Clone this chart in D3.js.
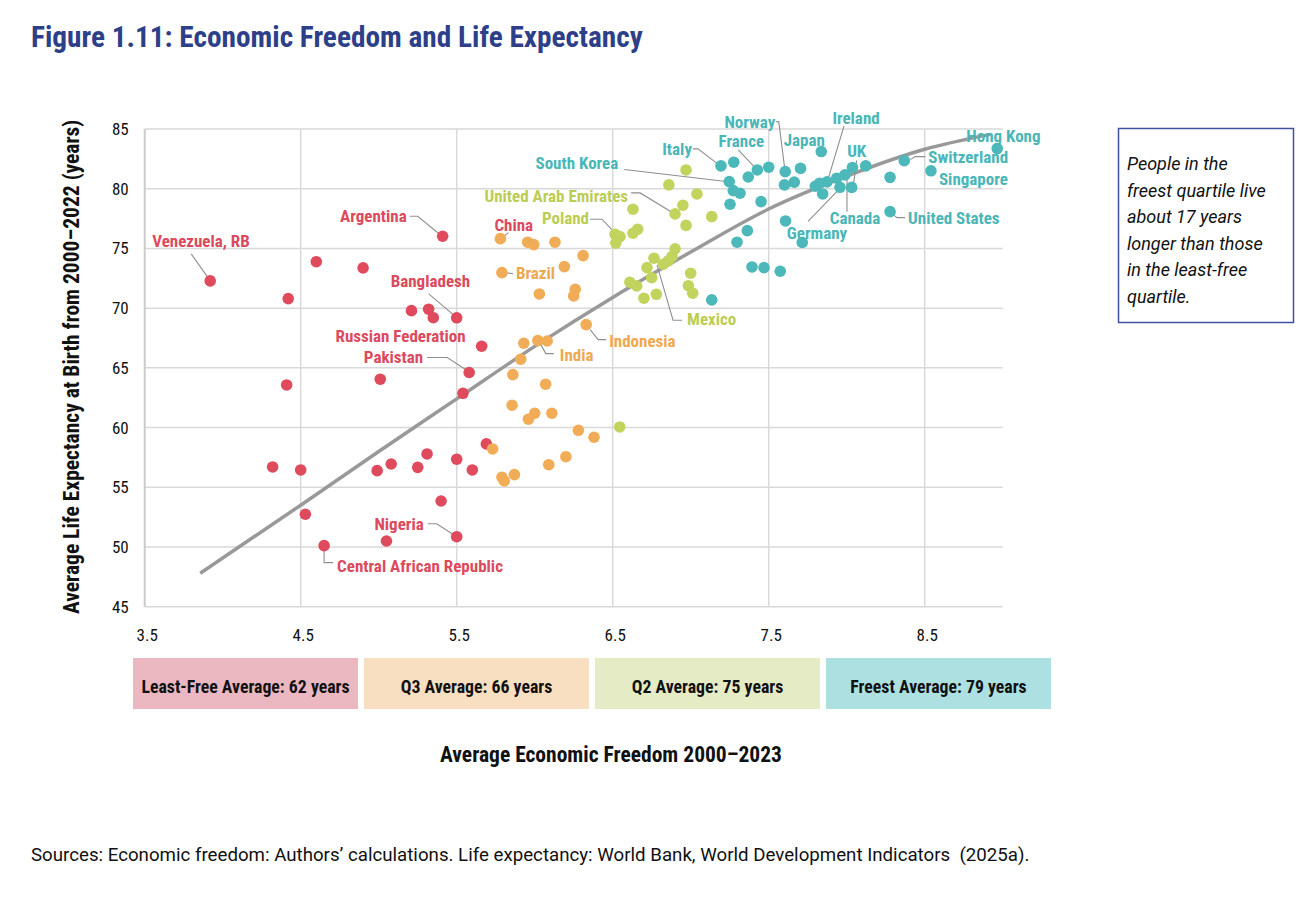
<!DOCTYPE html>
<html>
<head>
<meta charset="utf-8">
<script src="https://cdn.jsdelivr.net/npm/d3@7"></script>
<style>
body { margin: 0; background: #fff; }
svg text { font-family: "Roboto Condensed", "Liberation Sans Narrow", "DejaVu Sans Condensed", Roboto, sans-serif; font-stretch: condensed; }
</style>
</head>
<body>
<svg id="chart" width="1310" height="906"></svg>
<script>
const xTicks = [3.5, 4.5, 5.5, 6.5, 7.5, 8.5];
const yTicks = [45, 50, 55, 60, 65, 70, 75, 80, 85];

// [economic freedom, life expectancy]
const leastFree = [
  [3.92, 72.28], [5.41, 76.02], [5.50, 69.19], [5.66, 66.81], [5.58, 64.61], [5.50, 50.86], [4.65, 50.11],
  [4.60, 73.89], [4.90, 73.37], [4.42, 70.80], [5.21, 69.79], [5.32, 69.91], [5.35, 69.20], [4.41, 63.57],
  [5.01, 64.05], [5.54, 62.87], [5.69, 58.63], [4.32, 56.70], [4.50, 56.45], [4.99, 56.39], [5.08, 56.95],
  [5.31, 57.79], [5.25, 56.67], [5.50, 57.35], [5.60, 56.45], [5.40, 53.85], [4.53, 52.74], [5.05, 50.50]
];
const thirdQuartile = [
  [5.78, 75.82], [5.79, 72.97], [6.33, 68.62], [6.02, 67.28],
  [5.955, 75.52], [5.994, 75.32], [6.13, 75.52], [6.31, 74.40], [6.19, 73.48], [6.03, 71.19], [6.26, 71.58],
  [6.25, 71.02], [5.93, 67.06], [6.08, 67.25], [5.91, 65.72], [5.86, 64.43], [6.07, 63.63], [5.855, 61.87],
  [6.00, 61.20], [5.96, 60.70], [6.11, 61.20], [6.28, 59.77], [6.38, 59.19], [5.73, 58.21], [6.20, 57.56],
  [6.09, 56.89], [5.79, 55.84], [5.805, 55.53], [5.87, 56.06]
];
const secondQuartile = [
  [6.90, 77.89], [6.515, 76.19], [6.765, 74.18],
  [6.97, 81.57], [6.86, 80.32], [7.04, 79.56], [6.95, 78.62], [6.97, 76.93], [7.135, 77.66], [6.63, 78.28],
  [6.547, 75.99], [6.52, 75.44], [6.66, 76.61], [6.63, 76.27], [6.90, 74.96], [6.88, 74.31], [6.856, 73.95],
  [6.824, 73.68], [6.72, 73.39], [6.75, 72.55], [6.61, 72.17], [6.654, 71.86], [6.70, 70.83], [6.78, 71.16],
  [7.00, 72.92], [6.985, 71.88], [7.013, 71.25], [6.545, 60.05]
];
const freest = [
  [7.194, 81.91], [7.247, 80.60], [7.427, 81.57], [7.606, 81.43], [7.837, 83.11], [7.874, 80.57], [8.032, 80.11],
  [7.989, 81.16], [7.957, 80.12], [8.369, 82.35], [8.54, 81.50], [8.278, 78.08], [8.965, 83.36],
  [7.276, 82.22], [7.369, 80.98], [7.50, 81.80], [7.704, 81.70], [7.273, 79.84], [7.316, 79.62], [7.601, 80.32],
  [7.664, 80.55], [7.252, 78.70], [7.451, 78.92], [7.799, 80.21], [7.826, 80.46], [7.846, 79.56], [7.936, 80.88],
  [8.037, 81.78], [8.122, 81.91], [8.278, 80.95], [7.608, 77.30], [7.363, 76.49], [7.297, 75.52], [7.715, 75.50],
  [7.393, 73.45], [7.47, 73.39], [7.574, 73.09], [7.135, 70.69]
];

// fitted curve
const fitX = [3.856, 4.5, 5.0, 5.5, 6.0, 6.5, 7.0, 7.5, 8.0, 8.5, 8.92];
const fitY = [47.8, 53.5, 58.0, 62.4, 66.8, 70.9, 74.7, 78.3, 81.05, 83.3, 84.55];

const quartileLabels = ['Least-Free Average: 62 years', 'Q3 Average: 66 years', 'Q2 Average: 75 years', 'Freest Average: 79 years'];

// country name, group, index in group
const labels = [
  ['Venezuela, RB', 0, 0], ['Argentina', 0, 1], ['Bangladesh', 0, 2], ['Russian Federation', 0, 3],
  ['Pakistan', 0, 4], ['Nigeria', 0, 5], ['Central African Republic', 0, 6],
  ['China', 1, 0], ['Brazil', 1, 1], ['Indonesia', 1, 2], ['India', 1, 3],
  ['United Arab Emirates', 2, 0], ['Poland', 2, 1], ['Mexico', 2, 2],
  ['Italy', 3, 0], ['South Korea', 3, 1], ['France', 3, 2], ['Norway', 3, 3], ['Japan', 3, 4],
  ['Ireland', 3, 5], ['UK', 3, 6], ['Canada', 3, 7], ['Germany', 3, 8], ['Switzerland', 3, 9],
  ['Singapore', 3, 10], ['United States', 3, 11], ['Hong Kong', 3, 12]
];

const noteLines = ['People in the', 'freest quartile live', 'about 17 years', 'longer than those', 'in the least-free', 'quartile.'];

// label placement, pixels from the point
const labelLayout = {
  'Venezuela, RB': { dx: -58, dy: -34, a: 'start', lead: [[-19, -27], [-2, -3]] },
  'Argentina': { dx: -36, dy: -14, a: 'end', lead: [[-33, -20], [-25, -20], [-3, -2]] },
  'Bangladesh': { dx: -66, dy: -31, a: 'start', lead: [[-28, -24], [-2, -2]] },
  'Russian Federation': { dx: -16, dy: -4, a: 'end' },
  'Pakistan': { dx: -46, dy: -10, a: 'end', lead: [[-42, -15], [-22, -15], [-2, -2]] },
  'Nigeria': { dx: -33, dy: -7, a: 'end', lead: [[-29, -13], [-20, -13], [-3, -2]] },
  'Central African Republic': { dx: 13, dy: 26, a: 'start', lead: [[0, 3], [0, 17], [9, 17]] },
  'China': { dx: -6, dy: -8, a: 'start', lead: [[8, -6], [2, -1]], color: '#de4a5d' },
  'Brazil': { dx: 14, dy: 6, a: 'start', lead: [[3, 0], [11, 1]] },
  'Indonesia': { dx: 23, dy: 22, a: 'start', lead: [[4, 5], [12, 15], [20, 15]] },
  'India': { dx: 22, dy: 20, a: 'start', lead: [[2, 2], [8, 13], [16, 13]] },
  'United Arab Emirates': { dx: -47, dy: -12, a: 'end', lead: [[-44, -21], [-35, -21], [-2, -1]] },
  'Poland': { dx: -26, dy: -10, a: 'end', lead: [[-25, -15], [-13, -15], [0, -1]] },
  'Mexico': { dx: 33, dy: 67, a: 'start', lead: [[3, 7], [19, 62], [28, 62]] },
  'Italy': { dx: -29, dy: -11, a: 'end', lead: [[-28, -17], [-23, -17], [-2, -1]] },
  'South Korea': { dx: -111, dy: -13, a: 'end', lead: [[-105, -12], [-3, 0]] },
  'France': { dx: -16, dy: -23, a: 'middle', lead: [[-19, -20], [-2, -2]] },
  'Norway': { dx: -10, dy: -44, a: 'end', lead: [[-9, -50], [-6.5, -50], [-0.5, -3]] },
  'Japan': { dx: -17, dy: -6, a: 'middle' },
  'Ireland': { dx: 29, dy: -58, a: 'middle', lead: [[17, -56], [0.5, -1]] },
  'UK': { dx: 5, dy: -30, a: 'middle', lead: [[5, -27], [1.5, -1]] },
  'Canada': { dx: 10, dy: 49, a: 'middle', lead: [[2, 37], [2, 2]] },
  'Germany': { dx: -23, dy: 52, a: 'middle', lead: [[-32, 34], [0, 1]] },
  'Switzerland': { dx: 24, dy: 2, a: 'start', lead: [[6, -1], [11, -4], [21, -4]] },
  'Singapore': { dx: 8, dy: 14, a: 'start' },
  'United States': { dx: 18, dy: 12, a: 'start', lead: [[3, 3], [7, 6], [15, 6]] },
  'Hong Kong': { dx: -31, dy: -7, a: 'start' }
};

const groups = [leastFree, thirdQuartile, secondQuartile, freest];
const dotColors = ['#df4a5c', '#f1ac57', '#c2d35e', '#4cb8ba'];
const textColors = ['#dc4a5e', '#eea94f', '#bccd55', '#4ab6b8'];
const boxColors = ['#ebb8c1', '#f8dfc1', '#e5ebc4', '#ade0e0'];

const svg = d3.select('#chart');
const x = d3.scaleLinear().domain([3.5, 9]).range([144.7, 1002.7]);
const y = d3.scaleLinear().domain([45, 85]).range([606.7, 129]);

// title
svg.append('text')
  .attr('x', 31).attr('y', 47)
  .attr('font-size', 29.3).attr('font-weight', 700)
  .attr('fill', '#2e3f8a')
  .text('Figure 1.11: Economic Freedom and Life Expectancy');

// grid
const grid = svg.append('g');
grid.selectAll('.hg').data(yTicks).enter().append('line')
  .attr('x1', x(3.5)).attr('x2', x(9))
  .attr('y1', d => y(d)).attr('y2', d => y(d))
  .attr('stroke', '#d9d9d9').attr('stroke-width', 1.5);
grid.selectAll('.vg').data(xTicks).enter().append('line')
  .attr('x1', d => x(d)).attr('x2', d => x(d))
  .attr('y1', y(45)).attr('y2', y(85))
  .attr('stroke', d => d === 3.5 ? '#cbcbcb' : '#d9d9d9')
  .attr('stroke-width', d => d === 3.5 ? 2 : 1.5);

// axes
const yAxis = svg.append('g')
  .attr('transform', `translate(${x(3.5)},0)`)
  .call(d3.axisLeft(y).tickValues(yTicks).tickSize(0).tickPadding(16));
const xAxis = svg.append('g')
  .attr('transform', `translate(2,${y(45)})`)
  .call(d3.axisBottom(x).tickValues(xTicks).tickFormat(d3.format('.1f')).tickSize(0).tickPadding(22));
[yAxis, xAxis].forEach(ax => {
  ax.attr('font-family', null);
  ax.select('.domain').remove();
  ax.selectAll('text').attr('font-size', 17).attr('fill', '#111');
});

// fitted curve
const fitPoints = fitX.map((v, i) => [v, fitY[i]]);
svg.append('path')
  .datum(fitPoints)
  .attr('fill', 'none')
  .attr('stroke', '#999')
  .attr('stroke-width', 3.5)
  .attr('d', d3.line().x(d => x(d[0])).y(d => y(d[1])).curve(d3.curveMonotoneX));

// leader lines
const leaders = svg.append('g');
labels.forEach(([name, g, i]) => {
  const lay = labelLayout[name];
  if (!lay.lead) return;
  const p = groups[g][i];
  const px = x(p[0]), py = y(p[1]);
  leaders.append('path')
    .attr('fill', 'none')
    .attr('stroke', '#8f8f8f')
    .attr('stroke-width', 1.1)
    .attr('d', d3.line()(lay.lead.map(o => [px + o[0], py + o[1]])));
});

// dots
groups.forEach((data, g) => {
  svg.append('g').selectAll('circle')
    .data(data)
    .enter()
    .append('circle')
    .attr('cx', d => x(d[0]))
    .attr('cy', d => y(d[1]))
    .attr('r', 5.8)
    .attr('fill', dotColors[g]);
});

// country labels
const labelG = svg.append('g');
labels.forEach(([name, g, i]) => {
  const lay = labelLayout[name];
  const p = groups[g][i];
  labelG.append('text')
    .attr('x', x(p[0]) + lay.dx)
    .attr('y', y(p[1]) + lay.dy)
    .attr('text-anchor', lay.a)
    .attr('font-size', 17)
    .attr('font-weight', 700)
    .attr('fill', lay.color || textColors[g])
    .text(name);
});

// y axis title
svg.append('text')
  .attr('transform', `translate(79,${(y(45) + y(85)) / 2 - 1}) rotate(-90)`)
  .attr('text-anchor', 'middle')
  .attr('font-size', 21.5).attr('font-weight', 700).attr('fill', '#111')
  .text('Average Life Expectancy at Birth from 2000\u20132022 (years)');

// quartile boxes
const boxW = 225, boxGap = 6, boxX0 = 133;
const boxes = svg.append('g').selectAll('g')
  .data(quartileLabels)
  .enter()
  .append('g')
  .attr('transform', (d, i) => `translate(${boxX0 + i * (boxW + boxGap)},658)`);
boxes.append('rect')
  .attr('width', boxW).attr('height', 51)
  .attr('fill', (d, i) => boxColors[i]);
boxes.append('text')
  .attr('x', boxW / 2).attr('y', 35)
  .attr('text-anchor', 'middle')
  .attr('font-size', 17.8).attr('font-weight', 700).attr('fill', '#111')
  .text(d => d);

// x axis title
svg.append('text')
  .attr('x', 611).attr('y', 762)
  .attr('text-anchor', 'middle')
  .attr('font-size', 21.5).attr('font-weight', 700).attr('fill', '#111')
  .text('Average Economic Freedom 2000\u20132023');

// note box
svg.append('rect')
  .attr('x', 1118.5).attr('y', 128.5).attr('width', 175).attr('height', 194)
  .attr('fill', 'none').attr('stroke', '#43529f').attr('stroke-width', 1.5);
svg.append('g').selectAll('text')
  .data(noteLines)
  .enter()
  .append('text')
  .attr('x', 1127)
  .attr('y', (d, i) => 170 + i * 26.5)
  .attr('font-size', 18).attr('font-style', 'italic').attr('fill', '#111')
  .style('font-family', 'Roboto, sans-serif').style('font-stretch', 'normal')
  .text(d => d);

// source
svg.append('text')
  .attr('x', 31).attr('y', 861)
  .attr('font-size', 18.7).attr('fill', '#111')
  .style('font-family', 'Roboto, sans-serif').style('font-stretch', 'normal')
  .style('white-space', 'pre')
  .text('Sources: Economic freedom: Authors\u2019 calculations. Life expectancy: World Bank, World Development Indicators  (2025a).');
</script>
</body>
</html>
